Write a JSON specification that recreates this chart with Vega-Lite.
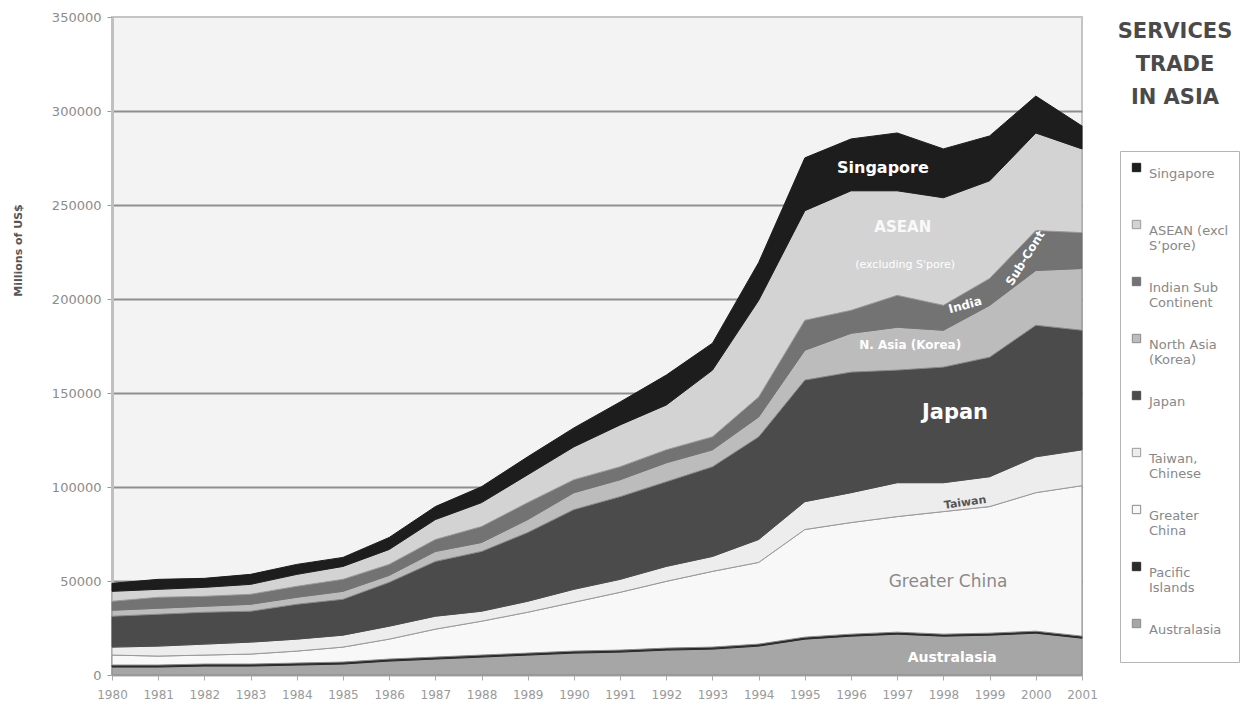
{
  "$schema": "https://vega.github.io/schema/vega-lite/v6.json",
  "width": 970,
  "height": 658,
  "autosize": "none",
  "padding": {"left": 112, "top": 17, "right": 175, "bottom": 42},
  "background": "white",
  "config": {
    "font": "DejaVu Sans",
    "view": {"fill": "#f3f3f3", "stroke": "#c4c4c4", "strokeWidth": 2}
  },
  "title": {
    "text": ["SERVICES", "TRADE", "IN ASIA"],
    "orient": "top",
    "anchor": "end",
    "frame": "group",
    "align": "center",
    "baseline": "top",
    "offset": 0,
    "dx": 93,
    "dy": 97,
    "font": "DejaVu Sans",
    "fontSize": 21,
    "fontWeight": "bold",
    "color": "#4a4a4a",
    "lineHeight": 33
  },
  "datasets": {
    "trade": [
      {"year": 1980, "aus": 4240, "pac": 1060, "china": 5300, "taiwan": 4240, "japan": 16430, "korea": 3180, "india": 4770, "asean": 5300, "sg": 4240},
      {"year": 1981, "aus": 4240, "pac": 1060, "china": 4770, "taiwan": 5300, "japan": 16960, "korea": 3180, "india": 5830, "asean": 4240, "sg": 5300},
      {"year": 1982, "aus": 4770, "pac": 1060, "china": 4770, "taiwan": 5830, "japan": 16960, "korea": 3180, "india": 5300, "asean": 4770, "sg": 4770},
      {"year": 1983, "aus": 4770, "pac": 1060, "china": 5300, "taiwan": 6360, "japan": 16430, "korea": 3710, "india": 5300, "asean": 5300, "sg": 5300},
      {"year": 1984, "aus": 5300, "pac": 1060, "china": 6360, "taiwan": 6360, "japan": 18550, "korea": 3710, "india": 5830, "asean": 6360, "sg": 5300},
      {"year": 1985, "aus": 5830, "pac": 1060, "china": 7950, "taiwan": 6360, "japan": 19080, "korea": 4240, "india": 6360, "asean": 6890, "sg": 4770},
      {"year": 1986, "aus": 7420, "pac": 1060, "china": 10600, "taiwan": 6890, "japan": 23320, "korea": 3710, "india": 5830, "asean": 7950, "sg": 6360},
      {"year": 1987, "aus": 8480, "pac": 1060, "china": 14840, "taiwan": 6890, "japan": 29150, "korea": 5300, "india": 6360, "asean": 10600, "sg": 6890},
      {"year": 1988, "aus": 9540, "pac": 1060, "china": 18020, "taiwan": 5300, "japan": 31800, "korea": 4770, "india": 8480, "asean": 12720, "sg": 8480},
      {"year": 1989, "aus": 10600, "pac": 1060, "china": 21730, "taiwan": 5830, "japan": 36570, "korea": 6890, "india": 9010, "asean": 14840, "sg": 9540},
      {"year": 1990, "aus": 11660, "pac": 1060, "china": 25970, "taiwan": 6890, "japan": 42400, "korea": 9010, "india": 6890, "asean": 17490, "sg": 10070},
      {"year": 1991, "aus": 12190, "pac": 1060, "china": 30740, "taiwan": 6890, "japan": 43990, "korea": 9010, "india": 6890, "asean": 22260, "sg": 12190},
      {"year": 1992, "aus": 13250, "pac": 1060, "china": 35510, "taiwan": 7950, "japan": 45050, "korea": 10070, "india": 6890, "asean": 23850, "sg": 15900},
      {"year": 1993, "aus": 13780, "pac": 1060, "china": 40280, "taiwan": 7950, "japan": 47700, "korea": 9010, "india": 6890, "asean": 35510, "sg": 14310},
      {"year": 1994, "aus": 15370, "pac": 1060, "china": 43460, "taiwan": 12190, "japan": 54590, "korea": 10600, "india": 10600, "asean": 51410, "sg": 20140},
      {"year": 1995, "aus": 19080, "pac": 1060, "china": 57240, "taiwan": 14840, "japan": 64660, "korea": 15900, "india": 15900, "asean": 58300, "sg": 28090},
      {"year": 1996, "aus": 20670, "pac": 1060, "china": 59360, "taiwan": 15900, "japan": 64130, "korea": 20670, "india": 12190, "asean": 63600, "sg": 27560},
      {"year": 1997, "aus": 21730, "pac": 1060, "china": 61480, "taiwan": 18020, "japan": 59890, "korea": 22790, "india": 16960, "asean": 55650, "sg": 30740},
      {"year": 1998, "aus": 20670, "pac": 1060, "china": 65190, "taiwan": 15370, "japan": 61480, "korea": 19610, "india": 13250, "asean": 57240, "sg": 25970},
      {"year": 1999, "aus": 21200, "pac": 1060, "china": 67310, "taiwan": 15900, "japan": 63600, "korea": 27560, "india": 14310, "asean": 51940, "sg": 23850},
      {"year": 2000, "aus": 22260, "pac": 1060, "china": 73670, "taiwan": 19080, "japan": 69960, "korea": 29150, "india": 21200, "asean": 51940, "sg": 19610},
      {"year": 2001, "aus": 19610, "pac": 1060, "china": 80030, "taiwan": 19080, "japan": 63600, "korea": 32860, "india": 19080, "asean": 44520, "sg": 12190}
    ],
    "regions": [
      {"key": "sg", "name": "Singapore", "idx": 9},
      {"key": "asean", "name": "ASEAN (excl S'pore)", "idx": 8},
      {"key": "india", "name": "Indian Sub Continent", "idx": 7},
      {"key": "korea", "name": "North Asia (Korea)", "idx": 6},
      {"key": "japan", "name": "Japan", "idx": 5},
      {"key": "taiwan", "name": "Taiwan, Chinese", "idx": 4},
      {"key": "china", "name": "Greater China", "idx": 3},
      {"key": "pac", "name": "Pacific Islands", "idx": 2},
      {"key": "aus", "name": "Australasia", "idx": 1}
    ]
  },
  "encoding": {
    "x": {
      "field": "year",
      "type": "quantitative",
      "scale": {"domain": [1980, 2001], "nice": false, "zero": false},
      "axis": {
        "title": null,
        "values": [1980, 1981, 1982, 1983, 1984, 1985, 1986, 1987, 1988, 1989, 1990, 1991, 1992, 1993, 1994, 1995, 1996, 1997, 1998, 1999, 2000, 2001],
        "format": "d",
        "grid": false,
        "labelFontSize": 12,
        "labelColor": "#9a9a9a",
        "labelPadding": 9,
        "labelOverlap": false,
        "labelFlush": false,
        "tickSize": 5,
        "tickColor": "#aaaaaa",
        "domainColor": "#aaaaaa",
        "domainWidth": 2
      }
    },
    "y": {
      "field": "value",
      "type": "quantitative",
      "stack": null,
      "scale": {"domain": [0, 350000], "nice": false},
      "axis": {
        "title": "Millions of US$",
        "values": [0, 50000, 100000, 150000, 200000, 250000, 300000, 350000],
        "format": "d",
        "labelFontSize": 13,
        "labelColor": "#8c8c8c",
        "labelPadding": 6,
        "tickSize": 5,
        "tickColor": "#999999",
        "domainColor": "#c0c0c0",
        "domainWidth": 3,
        "gridColor": {"condition": {"test": "datum.value == 0 || datum.value == 350000", "value": "transparent"}, "value": "#8f8f8f"},
        "gridWidth": 2,
        "titleFontSize": 11,
        "titleFontWeight": "bold",
        "titleColor": "#555555",
        "titleX": -94,
        "titleY": 233,
        "titleBaseline": "middle",
        "titleAlign": "center"
      }
    }
  },
  "layer": [
    {
      "data": {"name": "trade"},
      "transform": [
        {"fold": ["aus", "pac", "china", "taiwan", "japan", "korea", "india", "asean", "sg"], "as": ["key", "value"]},
        {"lookup": "key", "from": {"data": {"name": "regions"}, "key": "key", "fields": ["name", "idx"]}}
      ],
      "mark": {"type": "area", "strokeWidth": 1, "opacity": 1, "interpolate": "linear"},
      "encoding": {
        "y": {
          "field": "value",
          "type": "quantitative",
          "stack": "zero",
          "scale": {"domain": [0, 350000], "nice": false}
        },
        "order": {"field": "idx", "type": "quantitative"},
        "color": {
          "field": "name",
          "type": "nominal",
          "scale": {
            "domain": ["Singapore", "ASEAN (excl S'pore)", "Indian Sub Continent", "North Asia (Korea)", "Japan", "Taiwan, Chinese", "Greater China", "Pacific Islands", "Australasia"],
            "range": ["#1d1d1d", "#d3d3d3", "#737373", "#bcbcbc", "#4b4b4b", "#ededed", "#f8f8f8", "#2b2b2b", "#a6a6a6"]
          },
          "legend": {
            "orient": "none",
            "legendX": 1008,
            "legendY": 134,
            "title": null,
            "symbolType": "square",
            "symbolSize": 70,
            "symbolStrokeWidth": 1,
            "labelFontSize": 13,
            "labelColor": "#888888",
            "labelBaseline": "top",
            "labelLimit": 200,
            "labelOffset": 6,
            "rowPadding": 22,
            "padding": 10,
            "strokeColor": "#b5b5b5",
            "fillColor": "#ffffff",
            "labelExpr": "datum.label == 'Singapore' ? ['Singapore', ' '] : datum.label == 'Japan' ? ['Japan', ' '] : datum.label == 'Australasia' ? ['Australasia', ' '] : datum.label == 'Indian Sub Continent' ? ['Indian Sub', 'Continent'] : datum.label == 'North Asia (Korea)' ? ['North Asia', '(Korea)'] : datum.label == 'Taiwan, Chinese' ? ['Taiwan,', 'Chinese'] : datum.label == 'Greater China' ? ['Greater', 'China'] : datum.label == 'Pacific Islands' ? ['Pacific', 'Islands'] : ['ASEAN (excl', 'S\u2019pore)']"
          }
        },
        "stroke": {
          "field": "name",
          "type": "nominal",
          "scale": {
            "domain": ["Singapore", "ASEAN (excl S'pore)", "Indian Sub Continent", "North Asia (Korea)", "Japan", "Taiwan, Chinese", "Greater China", "Pacific Islands", "Australasia"],
            "range": ["#1d1d1d", "#9a9a9a", "#737373", "#8a8a8a", "#4b4b4b", "#9a9a9a", "#8a8a8a", "#2b2b2b", "#8a8a8a"]
          }
        }
      }
    },
    {
      "data": {"values": [{"year": 1996.69, "value": 269700, "label": "Singapore"}]},
      "mark": {"type": "text", "color": "#ffffff", "fontSize": 16, "fontWeight": "bold", "align": "center", "baseline": "middle"},
      "encoding": {"text": {"field": "label"}}
    },
    {
      "data": {"values": [{"year": 1997.12, "value": 238300, "label": "ASEAN"}]},
      "mark": {"type": "text", "color": "#f9f9f9", "fontSize": 15, "fontWeight": "bold", "align": "center", "baseline": "middle"},
      "encoding": {"text": {"field": "label"}}
    },
    {
      "data": {"values": [{"year": 1997.17, "value": 218100, "label": "(excluding S'pore)"}]},
      "mark": {"type": "text", "color": "#ffffff", "fontSize": 11, "align": "center", "baseline": "middle"},
      "encoding": {"text": {"field": "label"}}
    },
    {
      "data": {"values": [{"year": 1997.28, "value": 175500, "label": "N. Asia (Korea)"}]},
      "mark": {"type": "text", "color": "#ffffff", "fontSize": 12, "fontWeight": "bold", "align": "center", "baseline": "middle"},
      "encoding": {"text": {"field": "label"}}
    },
    {
      "data": {"values": [{"year": 1998.47, "value": 196800, "label": "India"}]},
      "mark": {"type": "text", "color": "#ffffff", "fontSize": 12, "fontWeight": "bold", "angle": -15, "align": "center", "baseline": "middle"},
      "encoding": {"text": {"field": "label"}}
    },
    {
      "data": {"values": [{"year": 1999.77, "value": 221800, "label": "Sub-Cont"}]},
      "mark": {"type": "text", "color": "#ffffff", "fontSize": 12, "fontWeight": "bold", "angle": -58, "align": "center", "baseline": "middle"},
      "encoding": {"text": {"field": "label"}}
    },
    {
      "data": {"values": [{"year": 1998.25, "value": 139400, "label": "Japan"}]},
      "mark": {"type": "text", "color": "#ffffff", "fontSize": 21, "fontWeight": "bold", "align": "center", "baseline": "middle"},
      "encoding": {"text": {"field": "label"}}
    },
    {
      "data": {"values": [{"year": 1998.47, "value": 91500, "label": "Taiwan"}]},
      "mark": {"type": "text", "color": "#555555", "fontSize": 11, "fontWeight": "bold", "angle": -8, "align": "center", "baseline": "middle"},
      "encoding": {"text": {"field": "label"}}
    },
    {
      "data": {"values": [{"year": 1998.1, "value": 49500, "label": "Greater China"}]},
      "mark": {"type": "text", "color": "#8a8a8a", "fontSize": 17, "align": "center", "baseline": "middle"},
      "encoding": {"text": {"field": "label"}}
    },
    {
      "data": {"values": [{"year": 1998.19, "value": 9000, "label": "Australasia"}]},
      "mark": {"type": "text", "color": "#ffffff", "fontSize": 14, "fontWeight": "bold", "align": "center", "baseline": "middle"},
      "encoding": {"text": {"field": "label"}}
    }
  ]
}
